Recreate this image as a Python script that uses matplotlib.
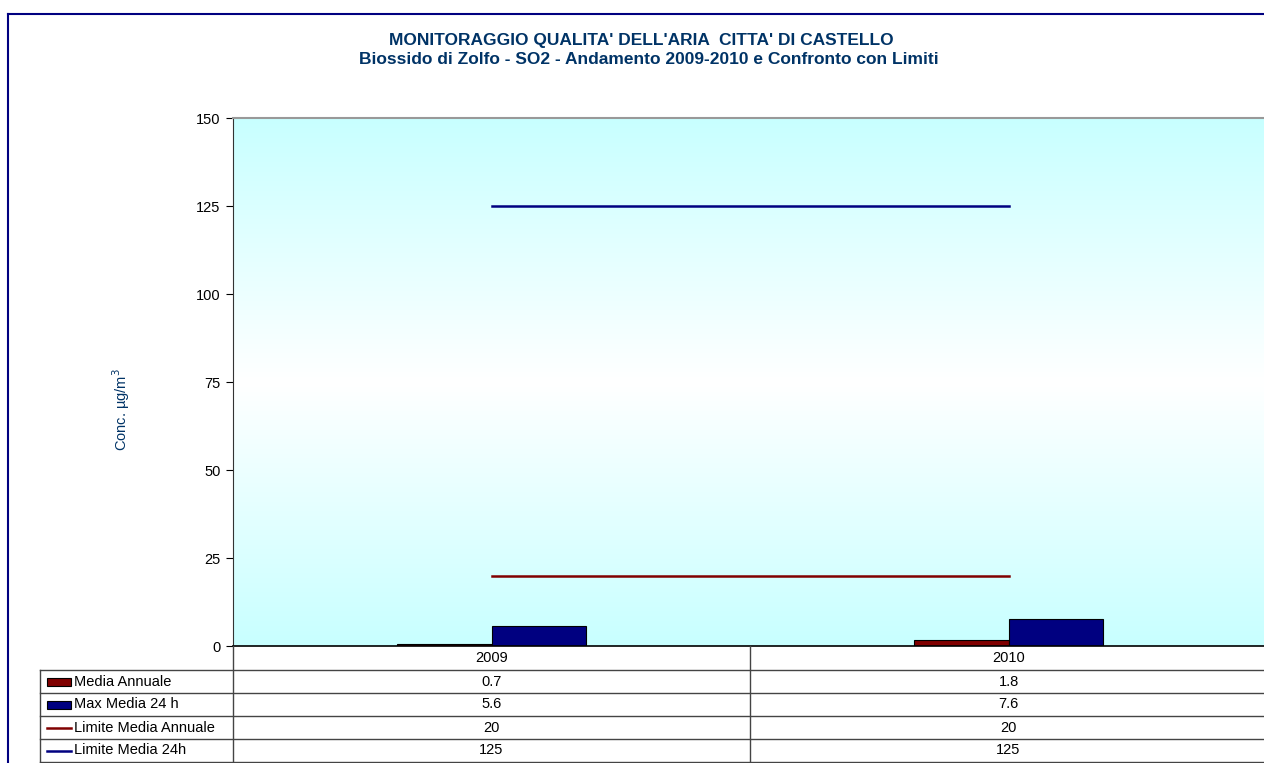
"""
SO2 monitoring chart - Citta' di Castello, 2009-2010 with limits and data table
"""
import numpy as np
import matplotlib
matplotlib.use('Agg')
import matplotlib.pyplot as plt
from matplotlib.colors import LinearSegmentedColormap
from matplotlib.patches import Rectangle
from matplotlib.lines import Line2D
import matplotlib.transforms as mtransforms

plt.rcParams['font.family'] = ['Liberation Sans', 'DejaVu Sans']

years = ['2009', '2010']
media_annuale = [0.7, 1.8]
max_media_24h = [5.6, 7.6]
limite_annuale = [20, 20]
limite_24h = [125, 125]
row_labels = ['Media Annuale', 'Max Media 24 h', 'Limite Media Annuale', 'Limite Media 24h']
row_values = [media_annuale, max_media_24h, limite_annuale, limite_24h]

red = '#800000'
navy = '#000080'
title_col = '#003366'
W, H = 1264, 763
fs = 10.5

def fy(py):
    return 1 - py / H

fig = plt.figure(figsize=(W / 100, H / 100), dpi=100)
# axes slightly wider than the picture, like the cropped original
ax = fig.add_axes([233 / W, fy(646), (1267 - 233) / W, (646 - 118) / H])

# gradient background
cmap = LinearSegmentedColormap.from_list('bg', [(0, '#C8FFFF'), (0.5, '#FFFFFF'), (1, '#C8FFFF')])
grad = np.linspace(0, 1, 256).reshape(-1, 1)
ax.imshow(grad, cmap=cmap, aspect='auto', extent=(-0.5, 1.5, 0, 150), zorder=0)

x = np.arange(len(years))
bw = 0.182
ax.bar(x - bw / 2, media_annuale, bw, color=red, edgecolor='black', linewidth=0.8, zorder=2)
ax.bar(x + bw / 2, max_media_24h, bw, color=navy, edgecolor='black', linewidth=0.8, zorder=2)
ax.plot(x, limite_annuale, color=red, linewidth=1.8, zorder=3)
ax.plot(x, limite_24h, color=navy, linewidth=1.8, zorder=3)

ax.set_xlim(-0.5, 1.5)
ax.set_ylim(0, 150)
ax.set_yticks([0, 25, 50, 75, 100, 125, 150])
ax.set_xticks([])
ax.tick_params(axis='y', direction='out', length=5, width=0.8, labelsize=fs, pad=4)
ax.spines['left'].set_color('#333333')
ax.spines['bottom'].set_color('black')
ax.spines['bottom'].set_linewidth(1.2)
ax.spines['top'].set_color('#999999')
ax.spines['top'].set_linewidth(1.5)
ax.spines['right'].set_visible(False)
ax.set_ylabel('Conc. µg/m$^3$', color=title_col, fontsize=fs)
ax.yaxis.set_label_coords(-0.098, 0.447)

fig.text(641 / W, fy(40), "MONITORAGGIO QUALITA' DELL'ARIA  CITTA' DI CASTELLO",
         ha='center', va='center', fontsize=12.5, fontweight='bold', color=title_col)
fig.text(649 / W, fy(59), "Biossido di Zolfo - SO2 - Andamento 2009-2010 e Confronto con Limiti",
         ha='center', va='center', fontsize=12.5, fontweight='bold', color=title_col)

# outer border (top and left visible)
fig.add_artist(Line2D([8 / W, 1.0], [fy(14), fy(14)], color=navy, linewidth=1.5))
fig.add_artist(Line2D([8 / W, 8 / W], [fy(14), 0], color=navy, linewidth=1.5))

# data table under the axes: x from data coords, y from figure coords
tr = mtransforms.blended_transform_factory(ax.transData, fig.transFigure)
row_y = [646, 670, 693, 716, 739, 762]
tab_left = 40 / W
for py in row_y[1:]:
    fig.add_artist(Line2D([tab_left, 1.0], [fy(py), fy(py)], color='#444444', linewidth=1.0))
fig.add_artist(Line2D([tab_left, tab_left], [fy(670), fy(762)], color='#444444', linewidth=1.0))
for xb in [-0.5, 0.5]:
    fig.add_artist(Line2D([xb, xb], [fy(646), fy(762)], color='#444444', linewidth=1.0, transform=tr))

for i, yr in enumerate(years):
    fig.text(x[i], fy((row_y[0] + row_y[1]) / 2), yr, ha='center', va='center', fontsize=fs, transform=tr)
for r, (lab, vals) in enumerate(zip(row_labels, row_values)):
    yc = fy((row_y[r + 1] + row_y[r + 2]) / 2)
    fig.text(74 / W, yc, lab, ha='left', va='center', fontsize=fs)
    for i, v in enumerate(vals):
        fig.text(x[i], yc, f'{v:g}', ha='center', va='center', fontsize=fs, transform=tr)
    if r < 2:
        col = red if r == 0 else navy
        fig.add_artist(Rectangle((47 / W, yc - 4 / H), 24 / W, 8 / H, facecolor=col,
                                 edgecolor='black', linewidth=0.8, transform=fig.transFigure))
    else:
        col = red if r == 2 else navy
        fig.add_artist(Line2D([47 / W, 71 / W], [yc, yc], color=col, linewidth=1.8))

fig.savefig('out.png', dpi=100)
